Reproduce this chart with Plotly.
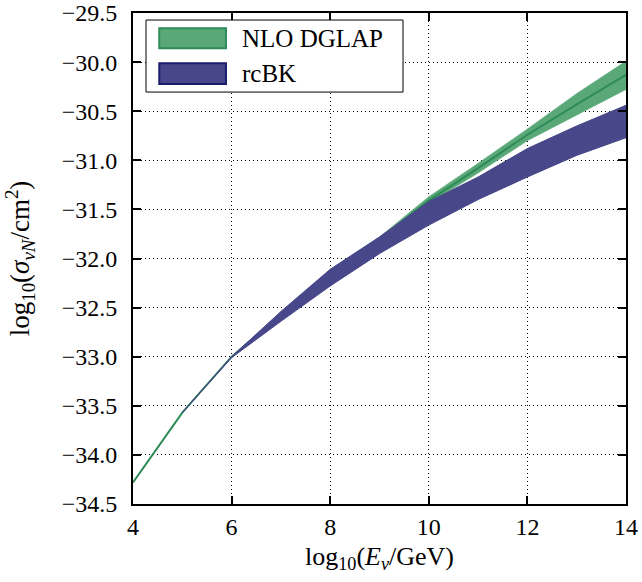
import plotly.graph_objects as go

# Data
x_vals = [4, 5, 6, 7, 8, 9, 10, 11, 12, 13, 14]
dglap_center = [-34.28, -33.57, -33.00, -32.57, -32.14, -31.80, -31.41, -31.08, -30.74, -30.43, -30.13]
dglap_upper = [-34.28, -33.57, -33.00, -32.56, -32.13, -31.78, -31.37, -31.03, -30.68, -30.32, -29.99]
dglap_lower = [-34.28, -33.57, -33.00, -32.58, -32.15, -31.82, -31.44, -31.13, -30.80, -30.54, -30.28]

bk_x = [5, 6, 7, 8, 9, 10, 11, 12, 13, 14]
bk_upper = [-33.57, -33.00, -32.54, -32.11, -31.78, -31.42, -31.17, -30.88, -30.65, -30.44]
bk_lower = [-33.57, -33.01, -32.64, -32.28, -31.95, -31.66, -31.40, -31.17, -30.95, -30.77]

legend_labels = ["NLO DGLAP", "rcBK"]
x_ticks = [4, 6, 8, 10, 12, 14]
y_ticks = [-34.5, -34.0, -33.5, -33.0, -32.5, -32.0, -31.5, -31.0, -30.5, -30.0, -29.5]

green_fill = "#5aa878"
green_line = "#2e8b57"
blue_fill = "#47478a"
blue_edge = "#1c1c6e"

FONT = "Liberation Serif"

fig = go.Figure()

# DGLAP band
fig.add_trace(go.Scatter(
    x=x_vals + x_vals[::-1],
    y=dglap_upper + dglap_lower[::-1],
    fill="toself", fillcolor=green_fill,
    line=dict(color=green_fill, width=0.5),
    mode="lines", showlegend=False, hoverinfo="skip",
))
fig.add_trace(go.Scatter(
    x=x_vals, y=dglap_center, mode="lines",
    line=dict(color=green_line, width=2), showlegend=False,
))
# rcBK band
fig.add_trace(go.Scatter(
    x=bk_x + bk_x[::-1],
    y=bk_upper + bk_lower[::-1],
    fill="toself", fillcolor=blue_fill,
    line=dict(color=blue_fill, width=1),
    mode="lines", showlegend=False, hoverinfo="skip",
))

axis_common = dict(
    showline=True, linecolor="black", linewidth=2, mirror="ticks",
    ticks="inside", ticklen=8, tickwidth=2, tickcolor="black",
    showgrid=True, gridcolor="black", gridwidth=1, griddash="1px,3px",
    zeroline=False, automargin=False, ticklabeloverflow="allow",
    tickfont=dict(family=FONT, size=24, color="black"),
)

fig.update_xaxes(
    range=[4, 14], tickvals=x_ticks, ticktext=[str(v) for v in x_ticks],
    title=dict(text="log<sub>10</sub>(<i>E</i><sub><i>ν</i></sub>/GeV)",
               font=dict(family=FONT, size=26, color="black"), standoff=8),
    **axis_common,
)
fig.update_yaxes(
    range=[-34.5, -29.5], tickvals=y_ticks,
    ticktext=[("−" if v < 0 else "") + f"{abs(v):.1f}" for v in y_ticks],
    ticklabelstandoff=9,
    title=dict(text="log<sub>10</sub>(<i>σ</i><sub><i>νN</i></sub>/cm<sup>2</sup>)",
               font=dict(family=FONT, size=27, color="black"), standoff=24),
    **axis_common,
)

# Legend (drawn as layout decoration)
shapes = [
    dict(type="rect", xref="paper", yref="paper", x0=0.0264, x1=0.5477, y0=0.839, y1=0.9857,
         fillcolor="white", line=dict(color="black", width=1), layer="above"),
    dict(type="rect", xref="paper", yref="paper", x0=0.0533, x1=0.1886, y0=0.928, y1=0.9688,
         fillcolor=green_fill, line=dict(color=green_line, width=2), layer="above"),
    dict(type="rect", xref="paper", yref="paper", x0=0.0533, x1=0.1886, y0=0.8554, y1=0.8975,
         fillcolor=blue_fill, line=dict(color=blue_edge, width=2), layer="above"),
]
annotations = [
    dict(text=legend_labels[0], xref="paper", yref="paper", x=0.217, y=0.949,
         xanchor="left", yanchor="middle", showarrow=False,
         font=dict(family=FONT, size=25, color="black")),
    dict(text=legend_labels[1], xref="paper", yref="paper", x=0.217, y=0.8758,
         xanchor="left", yanchor="middle", showarrow=False,
         font=dict(family=FONT, size=25, color="black")),
]

fig.update_layout(
    width=642, height=582,
    margin=dict(l=133, r=16, t=13, b=78),
    paper_bgcolor="white", plot_bgcolor="white",
    shapes=shapes, annotations=annotations,
    showlegend=False,
)

# remove the default page margin so the figure sits at the window's corner
fig.write_html("out.html", config={"displayModeBar": False},
               post_script="document.body.style.margin='0';")
